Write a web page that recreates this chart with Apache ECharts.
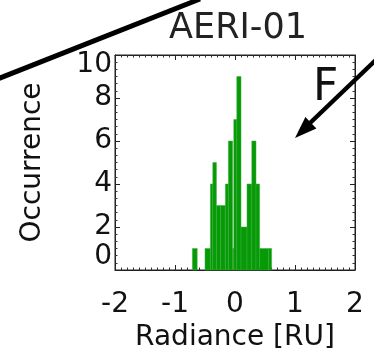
<!DOCTYPE html>
<html>
<head>
<meta charset="utf-8">
<script src="https://cdn.jsdelivr.net/npm/echarts@6/dist/echarts.min.js"></script>
<style>
html,body{margin:0;padding:0;background:#fff;}
#chart{width:374px;height:359px;}
</style>
</head>
<body>
<div id="chart"></div>
<script>
// Histogram bins (Radiance [RU]) and occurrence counts
const binLo  = [-0.71, -0.50, -0.41, -0.37, -0.31, -0.24, -0.16, -0.11, -0.04, -0.02, 0.03, 0.10, 0.20, 0.28, 0.35, 0.41, 0.56];
const binHi  = [-0.63, -0.41, -0.37, -0.31, -0.24, -0.16, -0.11, -0.04, -0.02, 0.03, 0.10, 0.20, 0.28, 0.35, 0.41, 0.56, 0.61];
const counts = [1, 1, 4, 5, 3, 3, 4, 6, 1, 7, 9, 2, 4, 6, 4, 1, 1];
const xTicks = [-2, -1, 0, 1, 2];
const yTicks = [0, 2, 4, 6, 8, 10];
const titleText = 'AERI-01';
const panelLetter = 'F';
const xName = 'Radiance [RU]';
const yName = 'Occurrence';

const FONT = 'DejaVu Sans';
const data = binLo.map((lo, i) => [lo, binHi[i], counts[i]]);

const chart = echarts.init(document.getElementById('chart'));

function axLine() { return {show: true, onZero: false, lineStyle: {color: '#222', width: 1}}; }
function axTick() { return {show: true, inside: true, length: 5, lineStyle: {color: '#222', width: 1}}; }
function minor(n) { return {show: true, splitNumber: n, length: 2.5, lineStyle: {color: '#333', width: 1}}; }
function lab() { return {fontSize: 28, fontFamily: FONT, color: '#111'}; }

chart.setOption({
  animation: false,
  backgroundColor: '#fff',
  title: {
    text: titleText, left: 233, top: 6, textAlign: 'center',
    textStyle: {fontSize: 35, fontWeight: 'normal', fontFamily: FONT, color: '#222'}
  },
  grid: {left: 115, right: 19, top: 55, bottom: 89, show: true, borderColor: '#222', borderWidth: 1, backgroundColor: 'rgba(0,0,0,0)'},
  xAxis: [{
    type: 'value', min: xTicks[0], max: xTicks[xTicks.length - 1], interval: 1, position: 'bottom',
    axisLine: axLine(), axisTick: axTick(), minorTick: minor(10), splitLine: {show: false},
    axisLabel: Object.assign({show: true, margin: 21}, lab()),
    name: xName, nameLocation: 'middle', nameGap: 54, nameTextStyle: lab()
  }, {
    type: 'value', min: xTicks[0], max: xTicks[xTicks.length - 1], interval: 1, position: 'top',
    axisLine: axLine(), axisTick: axTick(), minorTick: minor(10), splitLine: {show: false},
    axisLabel: {show: false}
  }],
  yAxis: [{
    type: 'value', min: yTicks[0], max: yTicks[yTicks.length - 1], interval: 2, position: 'left',
    axisLine: axLine(), axisTick: axTick(), minorTick: minor(6), splitLine: {show: false},
    axisLabel: Object.assign({
      show: true,
      margin: 3,
      formatter: function (v) {
        if (v === yTicks[0]) return '{lo|' + v + '}';
        if (v === yTicks[yTicks.length - 1]) return '{hi|' + v + '}';
        return String(v);
      },
      rich: {
        lo: {fontSize: 28, fontFamily: FONT, color: '#111', padding: [0, 0, 26, 0]},
        hi: {fontSize: 28, fontFamily: FONT, color: '#111', padding: [20, 0, 0, 0]}
      }
    }, lab()),
    name: yName, nameLocation: 'middle', nameGap: 68, nameRotate: 90, nameTextStyle: lab()
  }, {
    type: 'value', min: yTicks[0], max: yTicks[yTicks.length - 1], interval: 2, position: 'right',
    axisLine: axLine(), axisTick: axTick(), minorTick: minor(6), splitLine: {show: false},
    axisLabel: {show: false}
  }],
  series: [{
    type: 'custom',
    xAxisIndex: 0, yAxisIndex: 0,
    data: data,
    encode: {x: [0, 1], y: 2},
    renderItem: function (params, api) {
      const p0 = api.coord([api.value(0), api.value(2)]);
      const p1 = api.coord([api.value(1), 0]);
      return {
        type: 'rect',
        shape: {x: p0[0], y: p0[1], width: p1[0] - p0[0], height: p1[1] - p0[1]},
        style: {fill: '#079a07', stroke: '#38ad38', lineWidth: 0.5}
      };
    }
  }],
  graphic: [
    {type: 'line', z: 100, shape: {x1: -5, y1: 80, x2: 200, y2: -1}, style: {stroke: '#000', lineWidth: 5}},
    {type: 'line', z: 100, shape: {x1: 380, y1: 56, x2: 309, y2: 124}, style: {stroke: '#000', lineWidth: 4.5}},
    {type: 'polygon', z: 100, shape: {points: [[295, 138], [316.4, 128.5], [305.4, 116.9]]}, style: {fill: '#000'}},
    {type: 'text', z: 100, x: 313, y: 89, style: {text: panelLetter, font: '44px "DejaVu Sans"', fill: '#111', verticalAlign: 'middle', align: 'left'}}
  ]
});
</script>
</body>
</html>
